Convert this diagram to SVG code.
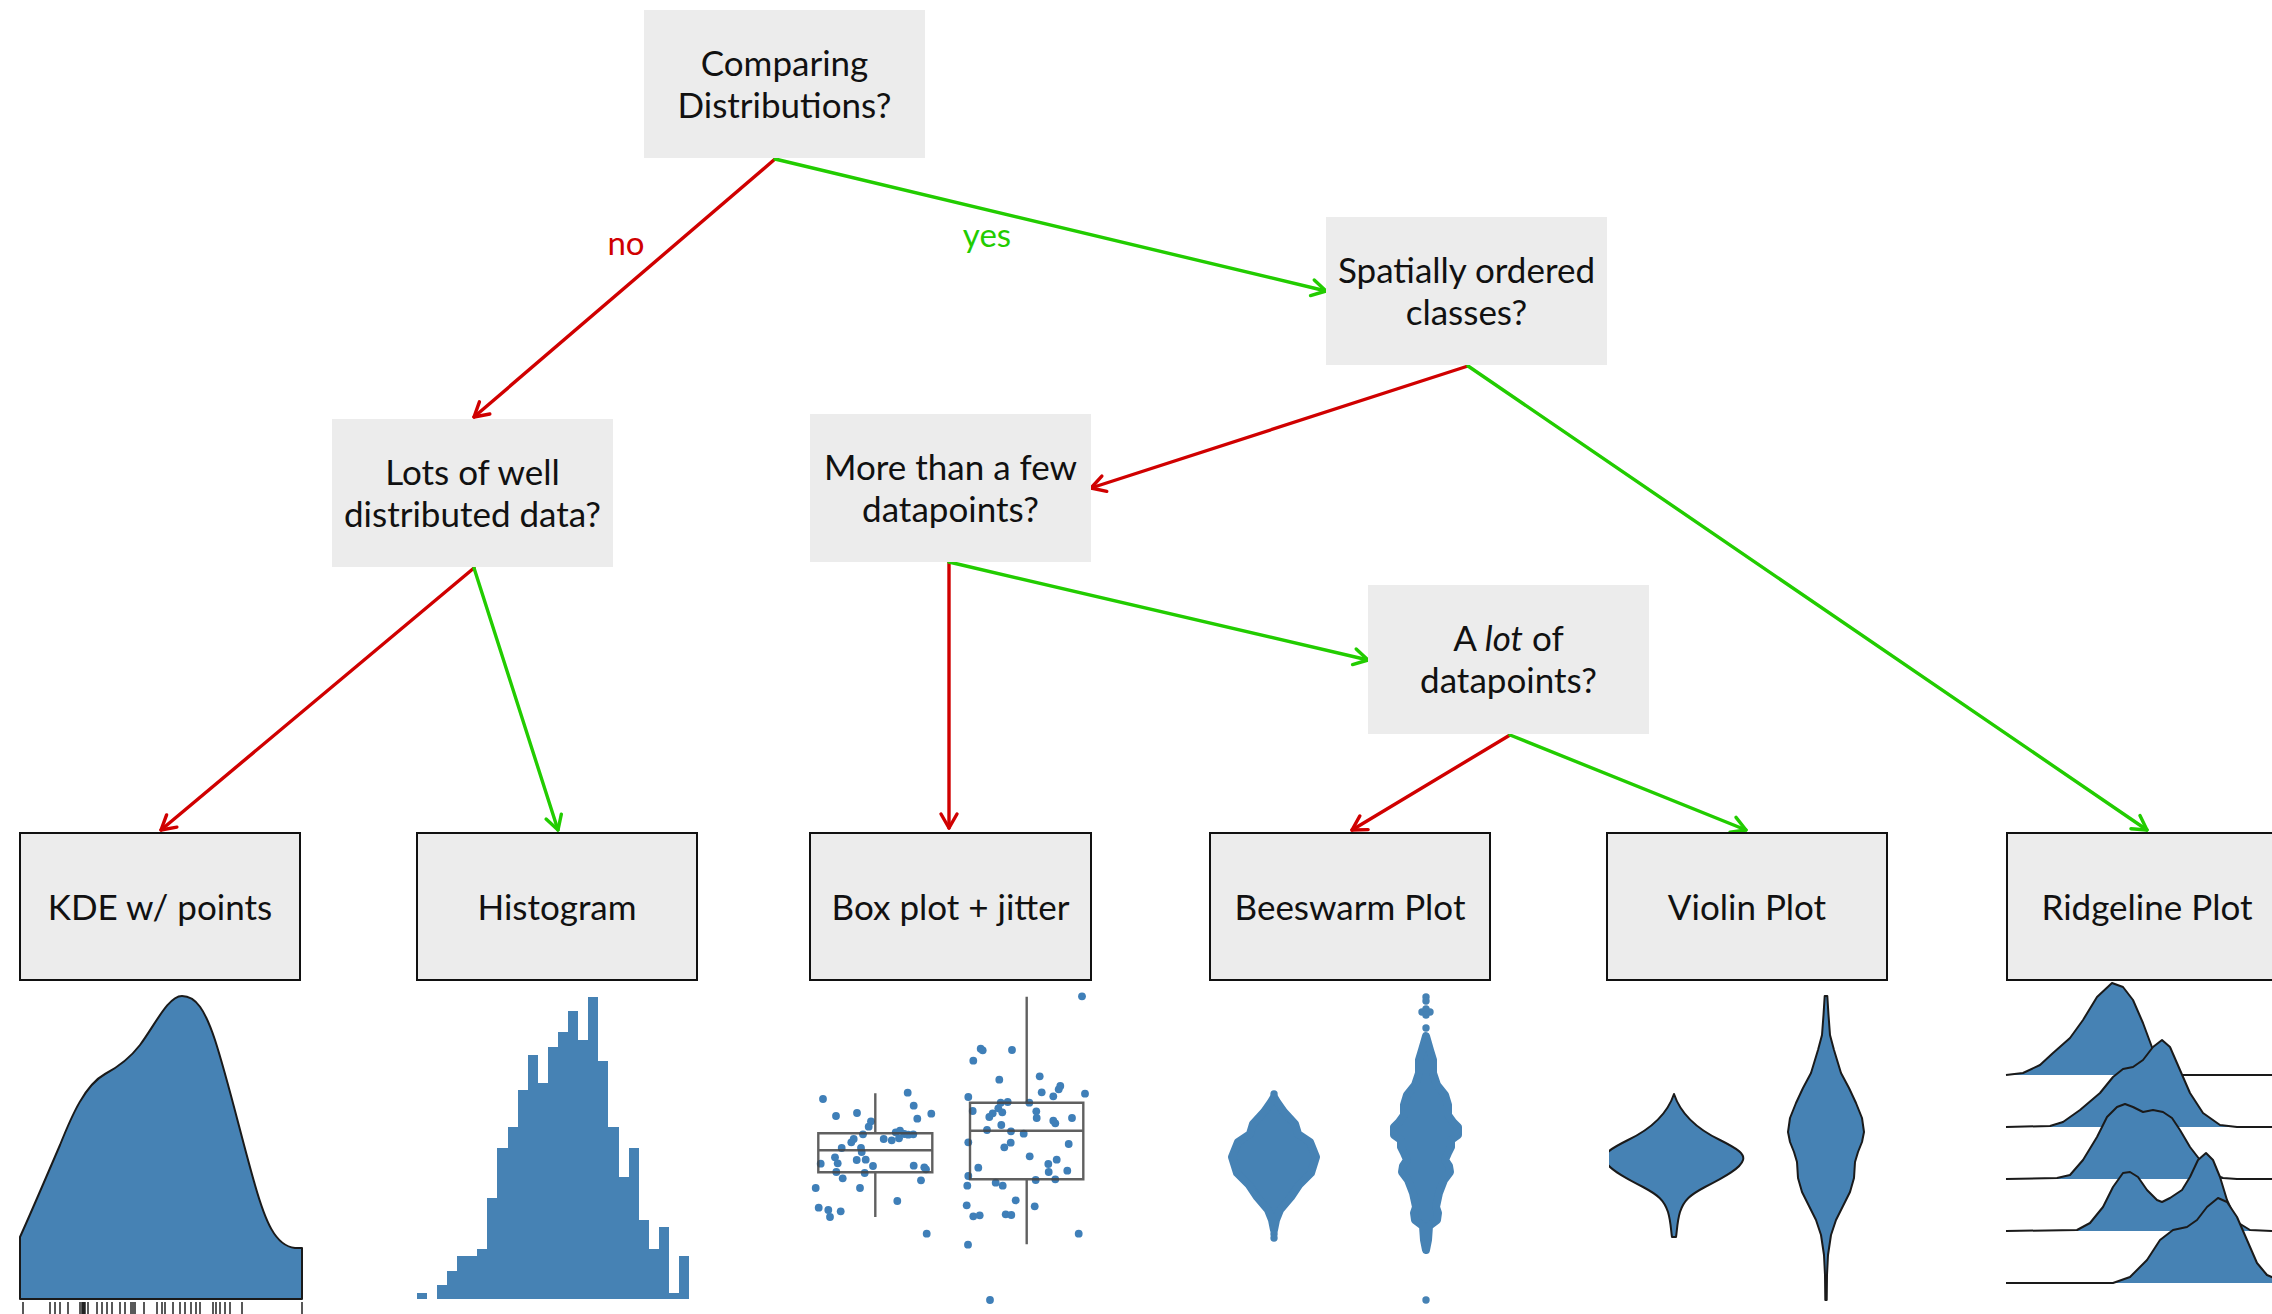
<svg xmlns="http://www.w3.org/2000/svg" width="2272" height="1314" viewBox="0 0 2272 1314">
<style>
.q rect{fill:#ececec}
.leaf rect{fill:#ececec;stroke:#111;stroke-width:2}
text{font-family:Lato,"Open Sans","Liberation Sans",sans-serif;font-size:35px;fill:#111;text-anchor:middle}
.lbl{font-size:33px}
.e{fill:none;stroke-width:3.4;stroke-linecap:round}
.r{stroke:#d00000}
.g{stroke:#22cc00}
.blue{fill:#4682b4}
.ol{stroke:#1a1a1a;stroke-width:2;stroke-linejoin:round}
.dot{fill:#3f7fb8}
.bx{fill:none;stroke:#444;stroke-width:2.4;stroke-opacity:.85}
.rug{stroke:#222;stroke-width:1.5}
</style>
<defs>
<marker id="ar" markerUnits="userSpaceOnUse" markerWidth="22" markerHeight="22" viewBox="0 0 22 22" refX="18" refY="11" orient="auto">
<path d="M4,3 L18,11 L4,19" fill="none" stroke="#d00000" stroke-width="3.4" stroke-linecap="round" stroke-linejoin="round"/>
</marker>
<marker id="ag" markerUnits="userSpaceOnUse" markerWidth="22" markerHeight="22" viewBox="0 0 22 22" refX="18" refY="11" orient="auto">
<path d="M4,3 L18,11 L4,19" fill="none" stroke="#22cc00" stroke-width="3.4" stroke-linecap="round" stroke-linejoin="round"/>
</marker>
<clipPath id="vclip"><rect x="1609" y="980" width="300" height="334"/></clipPath>
</defs>

<g id="connectors">
<line class="e r" x1="775" y1="159" x2="474" y2="417" marker-end="url(#ar)"/>
<line class="e g" x1="775" y1="159" x2="1326" y2="291" marker-end="url(#ag)"/>
<line class="e r" x1="1468" y1="366" x2="1091" y2="488" marker-end="url(#ar)"/>
<line class="e g" x1="1468" y1="366" x2="2147" y2="830" marker-end="url(#ag)"/>
<line class="e r" x1="474" y1="568" x2="161" y2="830" marker-end="url(#ar)"/>
<line class="e g" x1="474" y1="568" x2="558" y2="830" marker-end="url(#ag)"/>
<line class="e r" x1="949" y1="562" x2="949" y2="828" marker-end="url(#ar)"/>
<line class="e g" x1="949" y1="562" x2="1368" y2="660" marker-end="url(#ag)"/>
<line class="e r" x1="1510" y1="735" x2="1352" y2="830" marker-end="url(#ar)"/>
<line class="e g" x1="1510" y1="735" x2="1746" y2="830" marker-end="url(#ag)"/>
<text class="lbl" x="626" y="255" style="fill:#d00000">no</text>
<text class="lbl" x="987" y="247" style="fill:#22cc00">yes</text>
</g>

<g id="n-comparing" class="q">
<rect x="644" y="10" width="281" height="148"/>
<text x="784.5" y="76">Comparing</text>
<text x="784.5" y="118">Distributions?</text>
</g>
<g id="n-spatial" class="q">
<rect x="1326" y="217" width="281" height="148"/>
<text x="1466.5" y="283">Spatially ordered</text>
<text x="1466.5" y="325">classes?</text>
</g>
<g id="n-lots" class="q">
<rect x="332" y="419" width="281" height="148"/>
<text x="472.5" y="485">Lots of well</text>
<text x="472.5" y="527">distributed data?</text>
</g>
<g id="n-more" class="q">
<rect x="810" y="414" width="281" height="148"/>
<text x="950.5" y="480">More than a few</text>
<text x="950.5" y="522">datapoints?</text>
</g>
<g id="n-alot" class="q">
<rect x="1368" y="585" width="281" height="149"/>
<text x="1508.5" y="651">A <tspan font-style="italic">lot</tspan> of</text>
<text x="1508.5" y="693">datapoints?</text>
</g>

<g id="n-kde" class="leaf">
<rect x="20" y="833" width="280" height="147"/>
<text x="160" y="920">KDE w/ points</text>
<path class="blue ol" d="M20,1237 C30,1215 45,1180 60,1145 C72,1115 85,1085 105,1074 C120,1066 130,1058 140,1045 C155,1025 168,996 182,996 C196,996 205,1010 215,1040 C228,1080 242,1140 255,1185 C265,1220 275,1246 295,1248 L302,1248 L302,1299 L20,1299 Z"/>
<path class="rug" d="M23,1302V1314M50,1302V1314M55,1302V1314M60,1302V1314M68,1302V1314M80,1302V1314M82,1302V1314M83.5,1302V1314M85,1302V1314M88,1302V1314M97,1302V1314M102,1302V1314M107,1302V1314M112,1302V1314M120,1302V1314M125,1302V1314M131,1302V1314M133,1302V1314M135,1302V1314M144,1302V1314M157,1302V1314M162,1302V1314M165,1302V1314M173,1302V1314M180,1302V1314M185,1302V1314M191,1302V1314M196,1302V1314M200,1302V1314M213,1302V1314M216,1302V1314M220,1302V1314M225,1302V1314M230,1302V1314M242,1302V1314M302,1302V1314"/>
</g>

<g id="n-hist" class="leaf">
<rect x="417" y="833" width="280" height="147"/>
<text x="557" y="920">Histogram</text>
<path class="blue" d="M417,1293 H427 V1299 H417 Z M437,1299 V1285 H447 V1271 H457 V1256 H477 V1249 H487 V1198 H497 V1148 H508 V1127 H518 V1090 H528 V1055 H538 V1083 H548 V1047 H558 V1032 H568 V1011 H578 V1040 H588 V997 H598 V1061 H608 V1127 H619 V1177 H629 V1148 H639 V1220 H649 V1249 H659 V1227 H669 V1293 H679 V1256 H689 V1299 Z"/>
</g>

<g id="n-box" class="leaf">
<rect x="810" y="833" width="281" height="147"/>
<text x="950.5" y="920">Box plot + jitter</text>
<g class="dot">
<circle cx="823" cy="1099" r="3.9"/><circle cx="836" cy="1116" r="3.9"/><circle cx="857" cy="1113" r="3.9"/><circle cx="871" cy="1121.3" r="3.9"/><circle cx="868.7" cy="1126.7" r="3.9"/><circle cx="863" cy="1134.3" r="3.9"/><circle cx="853.7" cy="1139" r="3.9"/><circle cx="851.3" cy="1142.3" r="3.9"/><circle cx="841.7" cy="1148" r="3.9"/><circle cx="861" cy="1148" r="3.9"/><circle cx="861.7" cy="1152" r="3.9"/><circle cx="835" cy="1157.3" r="3.9"/><circle cx="837.7" cy="1163.3" r="3.9"/><circle cx="820.7" cy="1163.7" r="3.9"/><circle cx="856.7" cy="1160" r="3.9"/><circle cx="865.7" cy="1159.7" r="3.9"/><circle cx="873" cy="1166" r="3.9"/><circle cx="836.3" cy="1172" r="3.9"/><circle cx="864.7" cy="1173" r="3.9"/><circle cx="842.7" cy="1178.3" r="3.9"/><circle cx="815.7" cy="1188" r="3.9"/><circle cx="860" cy="1188" r="3.9"/><circle cx="818.7" cy="1207.7" r="3.9"/><circle cx="828.3" cy="1210" r="3.9"/><circle cx="830" cy="1217" r="3.9"/><circle cx="840.7" cy="1211.3" r="3.9"/><circle cx="897.3" cy="1201" r="3.9"/><circle cx="907.7" cy="1092.7" r="3.9"/><circle cx="913.7" cy="1105.7" r="3.9"/><circle cx="917.3" cy="1118.7" r="3.9"/><circle cx="931.3" cy="1113.7" r="3.9"/><circle cx="883.7" cy="1139" r="3.9"/><circle cx="891.7" cy="1140.3" r="3.9"/><circle cx="899" cy="1138.3" r="3.9"/><circle cx="895.7" cy="1132.3" r="3.9"/><circle cx="900" cy="1130.7" r="3.9"/><circle cx="904.3" cy="1134" r="3.9"/><circle cx="908.3" cy="1134.7" r="3.9"/><circle cx="913.3" cy="1134.3" r="3.9"/><circle cx="913.7" cy="1165.7" r="3.9"/><circle cx="924.3" cy="1167.3" r="3.9"/><circle cx="926" cy="1169.3" r="3.9"/><circle cx="921" cy="1180.3" r="3.9"/><circle cx="926.7" cy="1233.7" r="3.9"/>
<circle cx="980.7" cy="1048.7" r="3.9"/><circle cx="982.7" cy="1050.3" r="3.9"/><circle cx="973.3" cy="1060.7" r="3.9"/><circle cx="1012" cy="1050" r="3.9"/><circle cx="999.3" cy="1079.7" r="3.9"/><circle cx="968.3" cy="1097" r="3.9"/><circle cx="1039.7" cy="1076.3" r="3.9"/><circle cx="1041.7" cy="1092.3" r="3.9"/><circle cx="1058.7" cy="1089.3" r="3.9"/><circle cx="1060.3" cy="1086" r="3.9"/><circle cx="1053.3" cy="1096.3" r="3.9"/><circle cx="1085" cy="1093.7" r="3.9"/><circle cx="1082" cy="996.3" r="3.9"/><circle cx="1000.7" cy="1102.7" r="3.9"/><circle cx="1007.7" cy="1102" r="3.9"/><circle cx="1029.3" cy="1102.7" r="3.9"/><circle cx="972.7" cy="1111" r="3.9"/><circle cx="989.3" cy="1117" r="3.9"/><circle cx="992.7" cy="1113.3" r="3.9"/><circle cx="998.3" cy="1108.3" r="3.9"/><circle cx="1002.3" cy="1112.3" r="3.9"/><circle cx="1036.3" cy="1111.3" r="3.9"/><circle cx="1036.7" cy="1118" r="3.9"/><circle cx="1053.3" cy="1120.7" r="3.9"/><circle cx="1055.3" cy="1123.3" r="3.9"/><circle cx="1072" cy="1118" r="3.9"/><circle cx="1001.3" cy="1125" r="3.9"/><circle cx="987" cy="1130" r="3.9"/><circle cx="1011" cy="1131.3" r="3.9"/><circle cx="1023.7" cy="1133.7" r="3.9"/><circle cx="968.3" cy="1142.3" r="3.9"/><circle cx="1010.7" cy="1142.7" r="3.9"/><circle cx="1004.3" cy="1147.3" r="3.9"/><circle cx="1068.7" cy="1144" r="3.9"/><circle cx="1029.7" cy="1156.3" r="3.9"/><circle cx="978.3" cy="1167.7" r="3.9"/><circle cx="1048.3" cy="1164" r="3.9"/><circle cx="1056.7" cy="1159.7" r="3.9"/><circle cx="1048.7" cy="1172" r="3.9"/><circle cx="1067.3" cy="1170.7" r="3.9"/><circle cx="968.3" cy="1176" r="3.9"/><circle cx="967.3" cy="1185.7" r="3.9"/><circle cx="995.7" cy="1182.7" r="3.9"/><circle cx="1002.7" cy="1185.7" r="3.9"/><circle cx="1035.7" cy="1180" r="3.9"/><circle cx="1055.3" cy="1179.3" r="3.9"/><circle cx="1015.7" cy="1200.3" r="3.9"/><circle cx="966.7" cy="1205.3" r="3.9"/><circle cx="973.3" cy="1216.3" r="3.9"/><circle cx="979.7" cy="1215.3" r="3.9"/><circle cx="1005.7" cy="1214.3" r="3.9"/><circle cx="1011.3" cy="1215" r="3.9"/><circle cx="1034.7" cy="1206.3" r="3.9"/><circle cx="968" cy="1244.7" r="3.9"/><circle cx="1078.7" cy="1233.7" r="3.9"/><circle cx="990" cy="1300" r="3.9"/>
</g>
<path class="bx" d="M818.3,1133.3 H932.3 V1172.3 H818.3 Z M818.3,1150.3 H932.3 M875.3,1093.3 V1133.3 M875.3,1172.3 V1217"/>
<path class="bx" d="M970,1102.7 H1083.3 V1179.3 H970 Z M970,1130.7 H1083.3 M1026.7,996.7 V1102.7 M1026.7,1179.3 V1244.3"/>
</g>

<g id="n-bee" class="leaf">
<rect x="1210" y="833" width="280" height="147"/>
<text x="1350" y="920">Beeswarm Plot</text>
<g class="blue" style="stroke:#4682b4;stroke-width:8;stroke-linejoin:round">
<polygon points="1274,1097 1277,1102 1284,1112 1295,1124 1298,1134 1310,1142 1316,1157 1311,1173 1299,1185 1291,1197 1280,1210 1276,1220 1274,1230 1272,1220 1268,1210 1257,1197 1249,1185 1237,1173 1232,1157 1238,1142 1250,1134 1253,1124 1264,1112 1271,1102"/>
<polygon points="1426,1036 1428,1043 1430,1050 1433,1060 1433,1073 1437,1085 1445,1095 1448,1105 1448,1115 1453,1122 1458,1127 1458,1135 1451,1140 1451,1147 1448,1153 1445,1160 1449,1166 1450,1172 1444,1180 1439,1193 1436,1207 1438,1213 1437,1220 1429,1226 1428,1240 1426,1250 1424,1240 1423,1226 1415,1220 1414,1213 1416,1207 1413,1193 1408,1180 1402,1172 1403,1166 1407,1160 1404,1153 1401,1147 1401,1140 1394,1135 1394,1127 1399,1122 1404,1115 1404,1105 1407,1095 1415,1085 1419,1073 1419,1060 1422,1050 1424,1043"/>
</g>
<g class="blue">
<circle cx="1274" cy="1094" r="3.7"/><circle cx="1274" cy="1234" r="3.7"/><circle cx="1274" cy="1238" r="3.7"/>
<circle cx="1426" cy="997" r="3.7"/><circle cx="1426" cy="1001" r="3.7"/><circle cx="1422" cy="1012" r="3.7"/><circle cx="1430" cy="1012" r="3.7"/><circle cx="1426" cy="1009" r="3.7"/><circle cx="1426" cy="1015" r="3.7"/><circle cx="1426" cy="1028" r="3.7"/><circle cx="1426" cy="1300" r="3.7"/>
</g>
</g>

<g id="n-violin" class="leaf">
<rect x="1607" y="833" width="280" height="147"/>
<text x="1747" y="920">Violin Plot</text>
<path class="blue ol" clip-path="url(#vclip)" d="M1674,1094 C1680,1112 1695,1128 1720,1140 C1738,1149 1745,1154 1743,1160 C1741,1168 1725,1177 1705,1187 C1690,1195 1684,1200 1680,1212 C1677,1222 1677,1232 1676,1237 L1672,1237 C1671,1232 1671,1222 1668,1212 C1664,1200 1658,1195 1643,1187 C1623,1177 1607,1168 1605,1160 C1603,1154 1610,1149 1628,1140 C1653,1128 1668,1112 1674,1094 Z"/>
<polygon class="blue ol" points="1827.3,996 1828.5,1015 1830,1035 1834,1050 1841,1073 1849,1088 1856,1103 1862,1118 1864,1132 1862,1142 1858,1152 1855,1162 1854,1178 1850,1192 1843,1206 1836,1220 1831,1235 1828,1255 1827,1275 1826.7,1300 1825.3,1300 1825,1275 1824,1255 1821,1235 1816,1220 1809,1206 1802,1192 1798,1178 1797,1162 1794,1152 1790,1142 1788,1132 1790,1118 1796,1103 1803,1088 1811,1073 1818,1050 1822,1035 1823.5,1015 1824.7,996"/>
</g>

<g id="n-ridge" class="leaf">
<rect x="2007" y="833" width="280" height="147"/>
<text x="2147" y="920">Ridgeline Plot</text>
<path class="blue ol" d="M2006,1075 L2023,1073 L2040,1065 L2053,1053 L2070,1038 L2083,1020 L2097,997 L2112,983 L2123,987 L2133,1000 L2143,1023 L2153,1050 L2163,1070 L2177,1075 L2272,1075"/>
<path class="blue ol" d="M2006,1127 L2050,1126 L2063,1122 L2080,1110 L2100,1093 L2113,1077 L2123,1069 L2133,1067 L2143,1060 L2153,1047 L2162,1040 L2170,1047 L2180,1070 L2190,1093 L2203,1113 L2220,1125 L2237,1127 L2272,1127"/>
<path class="blue ol" d="M2006,1179 L2057,1178 L2070,1175 L2083,1160 L2097,1137 L2107,1117 L2117,1107 L2125,1104 L2133,1107 L2143,1112 L2153,1110 L2163,1112 L2172,1118 L2180,1130 L2190,1147 L2200,1160 L2210,1173 L2223,1178 L2237,1179 L2272,1179"/>
<path class="blue ol" d="M2006,1231 L2077,1230 L2090,1223 L2103,1207 L2113,1187 L2123,1173 L2130,1172 L2138,1177 L2147,1190 L2157,1200 L2162,1202 L2170,1198 L2182,1190 L2190,1177 L2198,1160 L2206,1153 L2213,1160 L2220,1177 L2227,1200 L2237,1222 L2250,1230 L2272,1231"/>
<path class="blue ol" d="M2006,1283 L2113,1283 L2130,1277 L2147,1260 L2160,1240 L2173,1230 L2187,1227 L2197,1220 L2207,1207 L2218,1198 L2227,1202 L2237,1217 L2247,1240 L2257,1263 L2267,1275 L2274,1278 L2274,1283"/>
</g>
</svg>
